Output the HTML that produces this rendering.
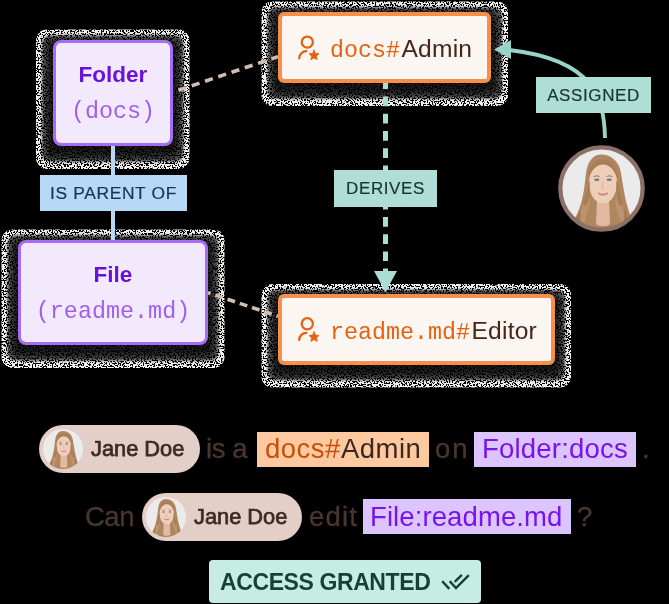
<!DOCTYPE html>
<html><head><meta charset="utf-8">
<style>
html,body{margin:0;padding:0;background:#000;}
#c{position:relative;width:669px;height:604px;overflow:hidden;background:#000;font-family:"Liberation Sans",sans-serif;}
.a{position:absolute;}
.t{position:absolute;white-space:nowrap;will-change:transform;}
.mono{font-family:"Liberation Mono",monospace;}
.shd{position:absolute;border-radius:9px;background:#8f8f8f;}
.shd i{position:absolute;left:7px;right:7px;top:7px;bottom:7px;background:#262626;filter:blur(4px);border-radius:6px;}
.pbox{position:absolute;box-sizing:border-box;border:3.2px solid #a56df5;background:#f3e9fd;border-radius:8px;}
.obox{position:absolute;box-sizing:border-box;border:4px solid #f68f4a;background:#fcf6f2;border-radius:6px;}
.lbl{position:absolute;}
</style></head><body>
<div id="c">
  <!-- shadows -->
  <svg class="a" style="left:0;top:0" width="669" height="604" viewBox="0 0 669 604">
    <defs>
      <filter id="dith" filterUnits="userSpaceOnUse" x="0" y="0" width="669" height="604" color-interpolation-filters="sRGB">
        <feTurbulence type="fractalNoise" baseFrequency="0.65" numOctaves="1" seed="7" result="n"/>
        <feColorMatrix in="n" type="matrix" values="0 0 0 0 0  0 0 0 0 0  0 0 0 0 0  1 0 0 0 0" result="na"/>
        <feComponentTransfer in="na" result="mask"><feFuncA type="linear" slope="40" intercept="-18.2"/></feComponentTransfer>
        <feComposite in="SourceGraphic" in2="mask" operator="in"/>
      </filter>
      <filter id="bl1" x="-20%" y="-20%" width="140%" height="140%"><feGaussianBlur stdDeviation="1.2"/></filter>
      <filter id="bl3" x="-20%" y="-20%" width="140%" height="140%"><feGaussianBlur stdDeviation="3"/></filter>
    </defs>
    <g filter="url(#dith)">
      <g fill="#f0f0f0">
        <rect x="36.0" y="29.5" width="153.5" height="139.5" rx="11"/>
        <rect x="1.5" y="229.5" width="223" height="138.5" rx="11"/>
        <rect x="261.5" y="1.5" width="246.5" height="104.5" rx="11"/>
        <rect x="261.5" y="284.0" width="309.5" height="103.5" rx="11"/>
      </g>
      <g fill="#5a5a5a" filter="url(#bl1)">
        <rect x="42.0" y="35.5" width="141.5" height="126" rx="8"/>
        <rect x="7.5" y="235.5" width="211" height="125" rx="8"/>
        <rect x="267.5" y="7.5" width="234.5" height="91" rx="8"/>
        <rect x="267.5" y="290.0" width="297.5" height="90.0" rx="8"/>
      </g>
      <g fill="#1a1a1a" filter="url(#bl3)">
        <rect x="46.5" y="39" width="132.5" height="119" rx="6"/>
        <rect x="12" y="239" width="202" height="118" rx="6"/>
        <rect x="272" y="11" width="225.5" height="84" rx="6"/>
        <rect x="272" y="293.5" width="288.5" height="83.0" rx="6"/>
      </g>
    </g>
  </svg>

  <!-- connectors -->
  <svg class="a" style="left:0;top:0" width="669" height="604" viewBox="0 0 669 604">
    <!-- blue vertical line -->
    <rect x="111" y="146" width="4" height="94" fill="#b7d9f6"/>
    <!-- tan dashed lines -->
    <line x1="173" y1="92.1" x2="278" y2="56.6" stroke="#d3bdb2" stroke-width="3.6" stroke-dasharray="8.2 5.8" stroke-dashoffset="8.2"/>
    <line x1="208" y1="292.7" x2="278" y2="316.2" stroke="#d3bdb2" stroke-width="3.6" stroke-dasharray="7.9 5" stroke-dashoffset="5.2"/>
    <!-- teal dashed vertical -->
    <line x1="385.5" y1="79.4" x2="385.5" y2="272" stroke="#acddd5" stroke-width="5" stroke-dasharray="9.7 7.5"/>
    <polygon points="374,271 397,271 385.5,292" fill="#acddd5"/>
    <!-- assigned curve -->
    <path d="M605 138 C604 100 596 60 509 50" fill="none" stroke="#98d5c8" stroke-width="3.9"/>
    <polygon points="494,49.5 511,40 511,59" fill="#98d5c8"/>
  </svg>

  <!-- Folder box -->
  <div class="pbox" style="left:52.5px;top:40px;width:120.5px;height:106px"></div>
  <div class="t" style="left:0;width:226px;text-align:center;top:64px;font-size:22.5px;line-height:22.5px;font-weight:bold;color:#6a12da">Folder</div>
  <div class="t mono" style="left:0;width:226px;text-align:center;top:100.5px;font-size:23.4px;line-height:23px;color:#a060ee">(docs)</div>

  <!-- File box -->
  <div class="pbox" style="left:18px;top:240px;width:190px;height:105px"></div>
  <div class="t" style="left:0;width:226px;text-align:center;top:264px;font-size:22.5px;line-height:22.5px;font-weight:bold;color:#6a12da">File</div>
  <div class="t mono" style="left:0;width:226px;text-align:center;top:300.5px;font-size:23.4px;line-height:23px;color:#a060ee">(readme.md)</div>

  <!-- IS PARENT OF -->
  <div class="a" style="left:40px;top:175px;width:147px;height:36px;background:#b7d9f6"></div>
  <div class="t" style="left:40px;width:147px;text-align:center;top:184.6px;font-size:17.4px;line-height:17px;letter-spacing:0.65px;color:#16345a;-webkit-text-stroke:0.2px #16345a">IS PARENT OF</div>

  <!-- docs#Admin box -->
  <div class="obox" style="left:278px;top:12px;width:213px;height:70.8px"></div>
  <div class="t mono" style="left:330px;top:36.6px;font-size:23.33px;line-height:23.33px;color:#e4620f">docs#<span style="font-family:'Liberation Sans';font-size:24.6px;letter-spacing:0.2px;margin-left:1.5px;color:#44261b">Admin</span></div>

  <!-- readme.md#Editor box -->
  <div class="obox" style="left:278px;top:294px;width:276.7px;height:70.7px"></div>
  <div class="t mono" style="left:330px;top:318.8px;font-size:23.33px;line-height:23.33px;color:#e4620f">readme.md#<span style="font-family:'Liberation Sans';font-size:24.6px;letter-spacing:0.2px;margin-left:1.5px;color:#44261b">Editor</span></div>

  <!-- icons -->
  <svg class="a" style="left:0;top:0" width="669" height="604" viewBox="0 0 669 604">
    <g id="ico" fill="none" stroke="#e4620f" stroke-width="2.25" stroke-linecap="round">
      <circle cx="307.3" cy="42.1" r="5.6"/>
      <path d="M299.2 58.3 A7.2 7.2 0 0 1 306.4 51.1"/>
      <path transform="translate(314 55.3)" d="M0 -5.2 L1.5 -1.9 L5 -1.6 L2.4 0.9 L3.2 4.4 L0 2.6 L-3.2 4.4 L-2.4 0.9 L-5 -1.6 L-1.5 -1.9 Z" fill="#e4620f" stroke="#e4620f" stroke-width="0.8" stroke-linejoin="round"/>
    </g>
    <use href="#ico" transform="translate(0 281.7)"/>
  </svg>

  <!-- DERIVES label -->
  <div class="a" style="left:334px;top:170px;width:103px;height:36.6px;background:#b0ded6"></div>
  <div class="t" style="left:334px;width:103px;text-align:center;top:179.6px;font-size:17px;line-height:17px;letter-spacing:0.6px;color:#173630;-webkit-text-stroke:0.2px #173630">DERIVES</div>

  <!-- ASSIGNED label -->
  <div class="a" style="left:536px;top:77px;width:115px;height:35.5px;background:#afded5"></div>
  <div class="t" style="left:536px;width:115px;text-align:center;top:86.5px;font-size:17px;line-height:17px;letter-spacing:0.6px;color:#173630;-webkit-text-stroke:0.2px #173630">ASSIGNED</div>

  <!-- big avatar -->
  <svg class="a" style="left:0;top:0;width:0;height:0" width="0" height="0">
    <defs>
      <symbol id="face" viewBox="0 0 89 89">
        <rect x="0" y="0" width="89" height="89" fill="#ebebeb"/>
        <g filter="url(#soft)">
        <path d="M44.5 10.5 C36.5 10.5 31 16.5 29.2 28 C27.6 40 27 50 23.5 61 C20.5 71 15 79 12 89 L80 89 C77 80 72.5 71 70 61 C67 50 66 40 63.8 28 C62 16.5 53 10.5 44.5 10.5 Z" fill="#b08660"/>
        <path d="M30 40 C29 52 26 62 21 74 C19 80 17 85 16 89 L26 89 C27 80 30 70 33 58 Z M61 40 C62 52 64 62 69 72 C71 78 74 84 76 89 L66 89 C64 80 61 70 58 58 Z" fill="#c29a72" opacity="0.7"/>
        <path d="M23 66 C21 74 17 82 15 89 L22 89 C23 80 24 72 23 66 Z M68 64 C69 72 72 80 74 89 L68 89 C67 80 67 72 68 64Z" fill="#8a6040" opacity="0.6"/>
        <path d="M40 56 L52 56 L53 80 C50 83 42 83 39 80 Z" fill="#e3b9a3"/>
        <path d="M32 38 C32 26 38 19 46 19 C54 19 60 26 60 38 C60 50 54.5 59.5 46 59.5 C37.5 59.5 32 50 32 38 Z" fill="#eecdb9"/>
        <path d="M31.5 36 C31.5 21 38 15.5 46 15.5 C54 15.5 60.5 21 60.5 36 C58 26 52.5 20.5 46 20.5 C39.5 20.5 34 26 31.5 36 Z" fill="#a97d57"/>
        <path d="M33 36 C32 46 34 54 29 62 L26 60 C29.5 50 29.5 44 33 36Z M59 36 C60 46 58 54 63 62 L66 60 C62.5 50 62.5 44 59 36Z" fill="#a97d57"/>
        <ellipse cx="39.8" cy="35.8" rx="2.6" ry="1.3" fill="#6f7b7b"/>
        <ellipse cx="52.2" cy="35.8" rx="2.6" ry="1.3" fill="#6f7b7b"/>
        <path d="M36.5 32.6 Q39.5 31.2 42.5 32.4 M49.5 32.4 Q52.5 31.2 55.5 32.6" stroke="#9c7258" stroke-width="1" fill="none"/>
        <path d="M46 38 L45 44.5 L47.5 44.8" stroke="#d9a896" stroke-width="0.8" fill="none"/>
        <path d="M42 49.5 Q46 51.8 50 49.5" stroke="#c98886" stroke-width="2" fill="none" stroke-linecap="round"/>
        <path d="M37 84 Q46 87 56 84 L58 89 L35 89 Z" fill="#3c3c3c"/>
        </g>
      </symbol>
      <filter id="soft" x="-10%" y="-10%" width="120%" height="120%"><feGaussianBlur stdDeviation="0.45"/></filter>
    </defs>
  </svg>
  <svg class="a" style="left:557px;top:144px" width="89" height="89" viewBox="0 0 89 89">
    <defs><clipPath id="cb"><circle cx="44.5" cy="44.5" r="41"/></clipPath></defs>
    <g clip-path="url(#cb)"><use href="#face" x="0" y="0" width="89" height="89"/></g>
    <circle cx="44.5" cy="44.5" r="41.2" fill="none" stroke="#8c7068" stroke-width="4.3"/>
  </svg>

  <!-- sentence 1 -->
  <div class="a" style="left:39.3px;top:425px;width:160.3px;height:47.5px;border-radius:24px;background:#e3cfc8"></div>
  <svg class="a" style="left:43px;top:428.8px" width="40" height="40" viewBox="5.5 6.5 78 78">
    <defs><clipPath id="cs1"><circle cx="44.5" cy="45.5" r="39"/></clipPath></defs>
    <g clip-path="url(#cs1)"><use href="#face" x="0" y="0" width="89" height="89"/></g>
  </svg>
  <div class="t" style="left:91px;top:438.5px;font-size:21.8px;line-height:20.7px;-webkit-text-stroke:0.75px #3e2b25;color:#3e2b25">Jane Doe</div>
  <div class="t" style="left:206px;top:436px;font-size:27.5px;line-height:26px;letter-spacing:-0.4px;color:#4a362f;-webkit-text-stroke:0.35px #4a362f">is a</div>
  <div class="a" style="left:257.2px;top:432px;width:171.6px;height:35px;background:#ffc9a0"></div>
  <div class="t" style="left:265px;top:436px;font-size:27.5px;line-height:26px;letter-spacing:0.5px;color:#c4500c">docs#<span style="color:#3b2820">Admin</span></div>
  <div class="t" style="left:435px;top:436px;font-size:27.5px;line-height:26px;letter-spacing:2px;color:#4a362f;-webkit-text-stroke:0.35px #4a362f">on</div>
  <div class="a" style="left:474.2px;top:432px;width:161.6px;height:34.7px;background:#dcc4ff"></div>
  <div class="t" style="left:482px;top:436px;font-size:27.5px;line-height:26px;letter-spacing:0.2px;color:#7614ee">Folder:docs</div>
  <div class="t" style="left:642px;top:436px;font-size:27.5px;line-height:26px;letter-spacing:0px;color:#4a362f;-webkit-text-stroke:0.35px #4a362f">.</div>

  <!-- sentence 2 -->
  <div class="t" style="left:84.5px;top:504px;font-size:27.5px;line-height:26px;letter-spacing:-0.5px;color:#4a362f;-webkit-text-stroke:0.35px #4a362f">Can</div>
  <div class="a" style="left:141.7px;top:493px;width:160px;height:47.6px;border-radius:24px;background:#e3cfc8"></div>
  <svg class="a" style="left:145.6px;top:496.8px" width="40" height="40" viewBox="5.5 6.5 78 78">
    <defs><clipPath id="cs2"><circle cx="44.5" cy="45.5" r="39"/></clipPath></defs>
    <g clip-path="url(#cs2)"><use href="#face" x="0" y="0" width="89" height="89"/></g>
  </svg>
  <div class="t" style="left:193.5px;top:506.5px;font-size:21.8px;line-height:20.7px;-webkit-text-stroke:0.75px #3e2b25;color:#3e2b25">Jane Doe</div>
  <div class="t" style="left:308.5px;top:504px;font-size:27.5px;line-height:26px;letter-spacing:1.2px;color:#4a362f;-webkit-text-stroke:0.35px #4a362f">edit</div>
  <div class="a" style="left:363.2px;top:499.3px;width:207.7px;height:34.3px;background:#dcc4ff"></div>
  <div class="t" style="left:370px;top:504px;font-size:27.5px;line-height:26px;letter-spacing:0.1px;color:#7614ee">File:readme.md</div>
  <div class="t" style="left:577px;top:504px;font-size:27.5px;line-height:26px;letter-spacing:0px;color:#4a362f;-webkit-text-stroke:0.35px #4a362f">?</div>

  <!-- ACCESS GRANTED -->
  <div class="a" style="left:209px;top:560px;width:272px;height:43.3px;border-radius:4px;background:#c7ece3"></div>
  <div class="t" style="left:220px;top:572.1px;font-size:23px;line-height:21px;font-weight:bold;letter-spacing:-0.4px;color:#173f36">ACCESS GRANTED</div>
  <svg class="a" style="left:0;top:0" width="669" height="604" viewBox="0 0 669 604">
    <g fill="none" stroke="#173f36" stroke-width="2.4" stroke-linecap="square">
      <path d="M443 582 L448.5 588"/>
      <path d="M450.5 582 L456 588 L468 576"/>
      <path d="M455.5 581 L461 575.8"/>
    </g>
  </svg>
</div>
</body></html>
